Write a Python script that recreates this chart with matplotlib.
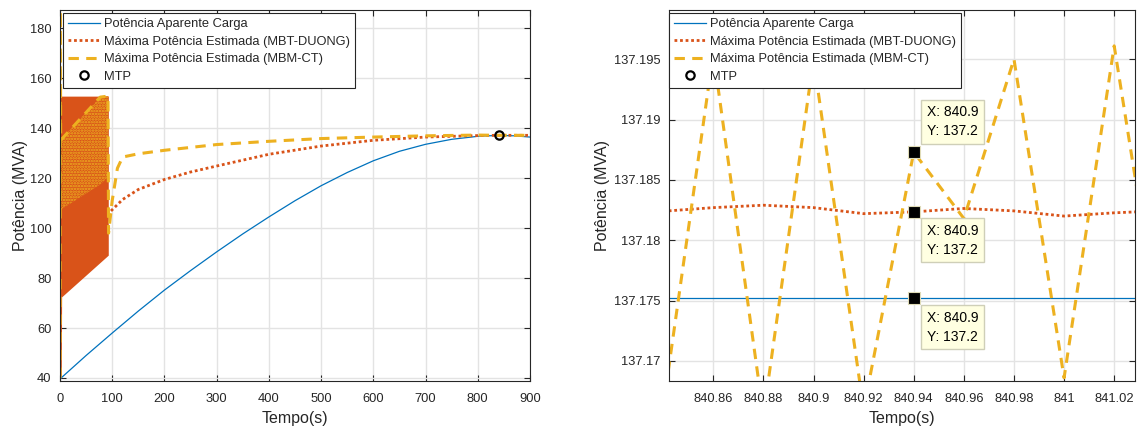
"""Potência aparente x máxima potência estimada (vista geral + zoom perto do MTP)."""

import matplotlib
matplotlib.use("Agg")
import matplotlib.pyplot as plt

# ---- vista geral (0-900 s) ----
carga_t = [0, 50, 100, 150, 200, 250, 300, 350, 400, 450, 500, 550, 600, 650,
           700, 750, 800, 840, 870, 900]
carga_p = [39.6, 49.0, 58.0, 66.8, 75.2, 83.0, 90.5, 97.7, 104.5, 111.0, 117.0,
           122.3, 127.0, 130.8, 133.6, 135.6, 136.8, 137.18, 137.0, 136.5]

# faixa de oscilação do MBT-DUONG no início (envoltória)
duong_faixa_t = [0, 2.5, 3.2, 92.5]
duong_faixa_min = [40.0, 40.0, 72.5, 89.2]
duong_faixa_max = [152.9, 152.9, 152.9, 152.9]
duong_t = [92.5, 95.7, 120, 150, 200, 250, 300, 400, 500, 600, 700, 800, 840, 900]
duong_p = [105.0, 106.5, 111.5, 115.5, 119.5, 122.5, 124.9, 129.6, 132.9, 135.2,
           136.5, 137.1, 137.2, 137.2]

# oscilação do MBM-CT (sobreposta à faixa laranja)
ct_faixa_t = [0, 77, 92.5]
ct_faixa_min = [107.2, 117.5, 120.5]
ct_faixa_max = [135.2, 152.5, 152.9]
ct_t = [0.3, 0.8, 1.3, 77, 92.0, 93.0, 100, 110, 120, 150, 200, 300, 400, 500,
        600, 700, 800, 840, 900]
ct_p = [40.0, 195.0, 135.2, 152.5, 152.9, 98.0, 111.0, 124.0, 128.5, 129.8,
        131.2, 133.5, 134.8, 135.9, 136.5, 137.0, 137.3, 137.2, 137.2]

mtp_t = [840.9]
mtp_p = [137.2]

# ---- zoom em torno de 840.9 s ----
zoom_t = [840.84, 840.86, 840.88, 840.90, 840.92, 840.94, 840.96, 840.98,
          841.00, 841.02, 841.04]
zoom_carga = [137.17522] * 11
zoom_duong = [137.18240, 137.18270, 137.18290, 137.18270, 137.18220, 137.18235,
              137.18263, 137.18243, 137.18200, 137.18227, 137.18245]
zoom_ct = [137.1662, 137.1955, 137.1655, 137.1950, 137.1660, 137.1873,
           137.1818, 137.1950, 137.1686, 137.1961, 137.1700]

# data tips (MBM-CT, MBT-DUONG, carga) em t = 840.94
tip_t = 840.94
tip_p = [137.1873, 137.18235, 137.17522]
tip_txt = ["X: 840.9\nY: 137.2"] * 3

left_xticks = list(range(0, 901, 100))
left_yticks = list(range(40, 181, 20))
right_xticks = [840.86, 840.88, 840.90, 840.92, 840.94, 840.96, 840.98, 841.00, 841.02]
right_yticks = [137.170, 137.175, 137.180, 137.185, 137.190, 137.195]

labels = ["Potência Aparente Carga", "Máxima Potência Estimada (MBT-DUONG)",
          "Máxima Potência Estimada (MBM-CT)", "MTP"]

BLUE = "#0072BD"
ORANGE = "#D95319"
YELLOW = "#EDB120"
TXT = "#262626"

plt.rcParams["font.family"] = ["Liberation Sans", "DejaVu Sans"]
plt.rcParams["font.size"] = 9.3
plt.rcParams["hatch.linewidth"] = 1.2


def style_axes(ax, ylabelpad):
    ax.grid(True, color="#e3e3e3", linewidth=1.0)
    ax.set_axisbelow(True)
    ax.tick_params(direction="in", length=4, width=0.8, top=True, right=True,
                   colors=TXT, labelsize=9.3)
    ax.tick_params(axis="x", pad=9)
    ax.tick_params(axis="y", pad=6)
    for s in ax.spines.values():
        s.set_color(TXT)
        s.set_linewidth(0.8)
    ax.set_xlabel("Tempo(s)", fontsize=11.5, color=TXT, labelpad=4)
    ax.set_ylabel("Potência (MVA)", fontsize=11.5, color=TXT, labelpad=ylabelpad)


def add_legend(ax, handles, x0):
    leg = ax.legend(handles, labels, loc="upper left", bbox_to_anchor=(x0, 0.992),
                    borderaxespad=0, fontsize=9.3, handlelength=2.5,
                    handletextpad=0.3, labelspacing=0.42, borderpad=0.38,
                    fancybox=False, framealpha=1, edgecolor=TXT)
    leg.get_frame().set_linewidth(0.8)
    for t in leg.get_texts():
        t.set_color(TXT)


fig = plt.figure(figsize=(11.4, 4.3), dpi=100)
ax1 = fig.add_axes([0.0526, 0.114, 0.4123, 0.8616])
ax2 = fig.add_axes([0.5868, 0.114, 0.4088, 0.8616])

# ---- esquerda ----
h1, = ax1.plot(carga_t, carga_p, color=BLUE, lw=0.9)
ax1.fill_between(duong_faixa_t, duong_faixa_min, duong_faixa_max,
                 color=ORANGE, lw=0)
h2, = ax1.plot(duong_t, duong_p, color=ORANGE, lw=2, ls=(0, (1, 1)))
ax1.fill_between(ct_faixa_t, ct_faixa_min, ct_faixa_max, facecolor=ORANGE,
                 edgecolor=YELLOW, hatch="......", lw=0)
h3, = ax1.plot(ct_t, ct_p, color=YELLOW, lw=2.2, ls=(0, (3.4, 2.4)))
h4, = ax1.plot(mtp_t, mtp_p, "o", mfc="none", mec="black", ms=6, mew=1.6)

ax1.set_xlim(0, 900)
ax1.set_ylim(38.8, 187.2)
ax1.set_xticks(left_xticks)
ax1.set_yticks(left_yticks)
style_axes(ax1, 1.5)
add_legend(ax1, [h1, h2, h3, h4], 0.007)

# ---- direita (zoom) ----
g1, = ax2.plot(zoom_t, zoom_carga, color=BLUE, lw=0.9)
g2, = ax2.plot(zoom_t, zoom_duong, color=ORANGE, lw=2, ls=(0, (1, 1)))
g3, = ax2.plot(zoom_t, zoom_ct, color=YELLOW, lw=2.2, ls=(0, (3.4, 2.4)))
g4, = ax2.plot(mtp_t, mtp_p, "o", mfc="none", mec="black", ms=6, mew=1.6)

ax2.plot([tip_t] * 3, tip_p, "s", color="black", ms=8, mec="#e0dcb8", mew=0.8,
         zorder=5)
offsets = [(13, 14, "bottom"), (13, -12, "top"), (13, -13, "top")]
for p, txt, (dx, dy, va) in zip(tip_p, tip_txt, offsets):
    ax2.annotate(txt, xy=(tip_t, p), xytext=(dx, dy), textcoords="offset pixels",
                 ha="left", va=va, fontsize=10, color="black", linespacing=1.45,
                 bbox=dict(boxstyle="square,pad=0.4", fc="#ffffe1",
                           ec="#cfcfb8", lw=1), zorder=6)

ax2.set_xlim(840.8423, 841.0283)
ax2.set_ylim(137.16834, 137.19903)
ax2.set_xticks(right_xticks)
ax2.set_xticklabels([f"{v:g}" for v in right_xticks])
ax2.set_yticks(right_yticks)
ax2.set_yticklabels([f"{v:.3f}".rstrip("0").rstrip(".") for v in right_yticks])
style_axes(ax2, 3)
add_legend(ax2, [g1, g2, g3, g4], 0.0)

fig.savefig("out.png", dpi=100)
